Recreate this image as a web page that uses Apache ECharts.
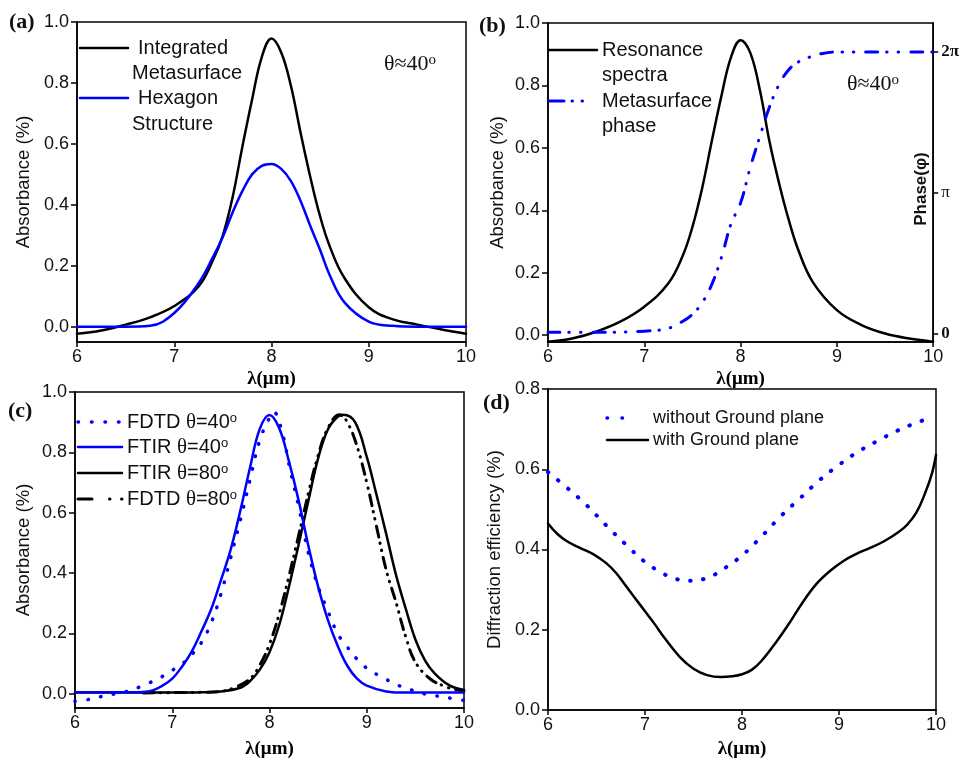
<!DOCTYPE html>
<html>
<head>
<meta charset="utf-8">
<script src="https://cdn.jsdelivr.net/npm/echarts@6/dist/echarts.min.js"></script>
<style>
  html, body { margin: 0; padding: 0; background: #fff; }
  #chart { width: 962px; height: 760px; }
</style>
</head>
<body>
<div id="chart"></div>
<script>
// ---- data ----
// (a) absorbance, integrated metasurface vs hexagon structure
var lamA = [6.0, 6.25, 6.5, 6.75, 7.0, 7.25, 7.4, 7.5, 7.6, 7.7, 7.8, 7.9, 8.0, 8.1, 8.2, 8.3, 8.4, 8.5, 8.6, 8.75, 9.0, 9.25, 9.5, 9.75, 10.0];
var absIntegrated = [-0.023, -0.012, 0.007, 0.031, 0.068, 0.132, 0.22, 0.3, 0.425, 0.59, 0.745, 0.885, 0.946, 0.9, 0.79, 0.635, 0.49, 0.362, 0.263, 0.16, 0.064, 0.024, 0.007, -0.009, -0.023];
var absHexagon = [0, 0, 0, 0.003, 0.045, 0.143, 0.23, 0.295, 0.375, 0.445, 0.5, 0.528, 0.534, 0.518, 0.478, 0.412, 0.33, 0.252, 0.168, 0.08, 0.017, 0.003, 0, 0, 0];

// (b) resonance spectra + metasurface phase (phase in units of pi)
var lamB = [6.0, 6.25, 6.5, 6.75, 7.0, 7.25, 7.4, 7.5, 7.6, 7.7, 7.8, 7.9, 8.0, 8.1, 8.2, 8.3, 8.4, 8.5, 8.6, 8.75, 9.0, 9.25, 9.5, 9.75, 10.0];
var absResonance = [-0.021, -0.011, 0.011, 0.043, 0.091, 0.166, 0.255, 0.347, 0.47, 0.62, 0.765, 0.89, 0.945, 0.905, 0.785, 0.62, 0.486, 0.369, 0.272, 0.17, 0.08, 0.033, 0.005, -0.011, -0.021];
var lamPhase = [6.0, 6.5, 7.0, 7.25, 7.4, 7.5, 7.6, 7.7, 7.8, 7.9, 8.0, 8.1, 8.2, 8.3, 8.4, 8.5, 8.6, 8.7, 8.85, 9.0, 9.5, 10.0];
var phasePi = [0.012, 0.012, 0.02, 0.04, 0.09, 0.14, 0.22, 0.35, 0.54, 0.78, 0.93, 1.18, 1.4, 1.61, 1.77, 1.875, 1.93, 1.96, 1.99, 2.0, 2.0, 2.0];

// (c) FDTD vs FTIR at 40 and 80 degrees
var lamFtir40 = [6.0, 6.5, 6.75, 6.9, 7.0, 7.1, 7.2, 7.3, 7.4, 7.5, 7.6, 7.7, 7.8, 7.9, 8.0, 8.1, 8.2, 8.3, 8.4, 8.5, 8.6, 8.7, 8.8, 8.9, 9.0, 9.2, 9.4, 10.0];
var ftir40 = [0.005, 0.005, 0.008, 0.027, 0.05, 0.09, 0.14, 0.207, 0.28, 0.376, 0.477, 0.607, 0.75, 0.878, 0.924, 0.88, 0.77, 0.64, 0.49, 0.355, 0.245, 0.16, 0.093, 0.05, 0.027, 0.008, 0.004, 0.004];
var lamFdtd40 = [6.0, 6.14, 6.27, 6.4, 6.53, 6.66, 6.77, 6.88, 6.98, 7.1, 7.2, 7.3, 7.4, 7.5, 7.6, 7.7, 7.8, 7.9, 8.0, 8.04, 8.14, 8.2, 8.3, 8.4, 8.5, 8.6, 8.7, 8.8, 8.9, 9.0, 9.15, 9.25, 9.37, 9.5, 9.63, 9.77, 9.9, 10.0];
var fdtd40 = [-0.025, -0.019, -0.009, -0.001, 0.008, 0.022, 0.037, 0.054, 0.074, 0.099, 0.13, 0.17, 0.235, 0.33, 0.45, 0.575, 0.71, 0.84, 0.915, 0.935, 0.854, 0.76, 0.62, 0.466, 0.355, 0.275, 0.2, 0.155, 0.115, 0.085, 0.056, 0.04, 0.022, 0.009, -0.003, -0.009, -0.017, -0.022];
var lamFtir80 = [6.0, 6.7, 7.0, 7.3, 7.5, 7.7, 7.8, 7.9, 8.0, 8.1, 8.2, 8.3, 8.4, 8.5, 8.6, 8.7, 8.76, 8.88, 9.0, 9.1, 9.2, 9.3, 9.4, 9.5, 9.6, 9.7, 9.85, 10.0];
var ftir80 = [0.004, 0.004, 0.004, 0.005, 0.008, 0.02, 0.042, 0.08, 0.138, 0.228, 0.355, 0.495, 0.64, 0.78, 0.876, 0.918, 0.925, 0.9, 0.785, 0.66, 0.53, 0.395, 0.283, 0.18, 0.11, 0.067, 0.028, 0.013];
var lamFdtd80 = [6.7, 7.0, 7.3, 7.5, 7.65, 7.8, 7.9, 8.0, 8.1, 8.2, 8.3, 8.4, 8.5, 8.6, 8.72, 8.8, 8.9, 9.0, 9.1, 9.2, 9.3, 9.4, 9.5, 9.65, 9.8, 9.9, 10.0];
var fdtd80 = [0.003, 0.004, 0.005, 0.008, 0.022, 0.05, 0.095, 0.165, 0.265, 0.39, 0.525, 0.665, 0.79, 0.88, 0.925, 0.9, 0.82, 0.7, 0.555, 0.41, 0.304, 0.19, 0.105, 0.05, 0.025, 0.015, 0.01];

// (d) diffraction efficiency
var lamNoGround = [6.0, 6.2, 6.4, 6.6, 6.8, 7.0, 7.18, 7.3, 7.43, 7.56, 7.69, 7.8, 8.0, 8.2, 8.4, 8.6, 8.8, 9.0, 9.2, 9.4, 9.6, 9.8, 9.95];
var effNoGround = [0.593, 0.553, 0.51, 0.46, 0.413, 0.369, 0.341, 0.328, 0.322, 0.324, 0.334, 0.35, 0.385, 0.432, 0.483, 0.528, 0.573, 0.611, 0.644, 0.671, 0.696, 0.716, 0.729];
var lamGround = [6.0, 6.1, 6.2, 6.33, 6.47, 6.6, 6.7, 6.8, 6.9, 7.0, 7.1, 7.2, 7.36, 7.5, 7.64, 7.78, 7.9, 8.0, 8.1, 8.2, 8.36, 8.5, 8.63, 8.77, 8.91, 9.05, 9.18, 9.32, 9.46, 9.6, 9.7, 9.8, 9.89, 9.96, 10.0];
var effGround = [0.465, 0.438, 0.42, 0.404, 0.388, 0.366, 0.342, 0.31, 0.278, 0.246, 0.214, 0.18, 0.132, 0.103, 0.087, 0.082, 0.084, 0.089, 0.1, 0.122, 0.172, 0.221, 0.27, 0.315, 0.347, 0.372, 0.389, 0.404, 0.42, 0.441, 0.461, 0.493, 0.542, 0.591, 0.636];

var absTicks = [0, 0.2, 0.4, 0.6, 0.8, 1.0];
var effTicks = [0, 0.2, 0.4, 0.6, 0.8];
var phaseTicks = [0, 1, 2];

var BLUE = '#0000ff';
var SANS = 'Liberation Sans';
var SERIF = 'Liberation Serif';

function pairs(xs, ys) {
  return xs.map(function (x, i) { return [x, ys[i]]; });
}

function xAx(gridIndex, nameGap) {
  return {
    type: 'value', gridIndex: gridIndex, min: 6, max: 10, interval: 1,
    name: 'λ(μm)', nameLocation: 'middle', nameGap: nameGap,
    nameTextStyle: { fontFamily: SERIF, fontWeight: 'bold', fontSize: 19, color: '#000' },
    axisLine: { onZero: false, lineStyle: { color: '#000', width: 1.5 } },
    axisTick: { length: 5, lineStyle: { color: '#000', width: 1.5 } },
    axisLabel: { fontFamily: SANS, fontSize: 18, color: '#111', margin: 6 },
    splitLine: { show: false }
  };
}

function yAx(gridIndex, min, max, name, nameGap, ticks) {
  return {
    type: 'value', gridIndex: gridIndex, min: min, max: max,
    name: name, nameLocation: 'middle', nameGap: nameGap,
    nameTextStyle: { fontFamily: SANS, fontSize: 18.5, color: '#111' },
    axisLine: { onZero: false, lineStyle: { color: '#000', width: 1.5 } },
    axisTick: { length: 6, customValues: ticks, lineStyle: { color: '#000', width: 1.5 } },
    axisLabel: {
      fontFamily: SANS, fontSize: 18, color: '#111', margin: 8, customValues: ticks,
      formatter: function (v) { return v.toFixed(1); }
    },
    splitLine: { show: false }
  };
}

function line(name, xi, yi, xs, ys, color, width, dash) {
  return {
    name: name, type: 'line', xAxisIndex: xi, yAxisIndex: yi,
    data: pairs(xs, ys), showSymbol: false, smooth: 0.4,
    lineStyle: { color: color, width: width, type: dash || 'solid', cap: 'round', join: 'round' }
  };
}

var dotDash = [0.5, 12.5];
var dashDotDot = [12, 9, 0.5, 11, 0.5, 12];
var dashDotDotC = [11, 6, 0.5, 7, 0.5, 7];

function txt(x, y, text, font, extra) {
  var style = { text: text, font: font || ('20px "' + SANS + '"'), fill: '#111', textAlign: 'left', textVerticalAlign: 'middle' };
  if (extra) { for (var k in extra) style[k] = extra[k]; }
  return { type: 'text', x: x, y: y, z: 100, style: style };
}
function sample(x1, x2, y, color, width, dash) {
  return {
    type: 'line', z: 100, shape: { x1: x1, y1: y, x2: x2, y2: y },
    style: { stroke: color, lineWidth: width, lineDash: dash || null, lineCap: 'round' }
  };
}
var thetaRich = {
  s: { fontFamily: SANS, fontSize: 20, color: '#111' },
  t: { fontFamily: SERIF, fontSize: 21, color: '#111' },
  sup: { fontFamily: SANS, fontSize: 13, color: '#111', verticalAlign: 'top' }
};
var angleRich = {
  t: { fontFamily: SERIF, fontSize: 22, color: '#111' },
  sup: { fontFamily: SERIF, fontSize: 15, color: '#111', verticalAlign: 'top' }
};

var graphics = [
  // panel labels
  txt(9, 22, '(a)', 'bold 22px "' + SERIF + '"'),
  txt(479, 26, '(b)', 'bold 22px "' + SERIF + '"'),
  txt(8, 411, '(c)', 'bold 22px "' + SERIF + '"'),
  txt(483, 403, '(d)', 'bold 22px "' + SERIF + '"'),
  // (a) legend
  sample(80, 128, 48, '#000', 2.5),
  txt(138, 48, 'Integrated'),
  txt(132, 73, 'Metasurface'),
  sample(80, 128, 98, BLUE, 2.5),
  txt(138, 98, 'Hexagon'),
  txt(132, 124, 'Structure'),
  txt(384, 64, '{t|θ≈40}{sup|o}', null, { rich: angleRich }),
  // (b) legend
  sample(549, 597, 50, '#000', 2.5),
  txt(602, 50, 'Resonance'),
  txt(602, 75, 'spectra'),
  sample(549, 586, 101, BLUE, 3, [15, 8, 0.5, 9.5, 0.5, 30]),
  txt(602, 101, 'Metasurface'),
  txt(602, 126, 'phase'),
  txt(847, 84, '{t|θ≈40}{sup|o}', null, { rich: angleRich }),
  {
    type: 'text', x: 921, y: 189, rotation: Math.PI / 2, z: 100,
    style: { text: 'Phase(φ)', font: 'bold 17px "' + SANS + '"', fill: '#111', textAlign: 'center', textVerticalAlign: 'middle' }
  },
  // (c) legend
  sample(78, 122, 422, BLUE, 3.5, [0.5, 13]),
  txt(127, 422, '{s|FDTD }{t|θ}{s|=40}{sup|o}', null, { rich: thetaRich }),
  sample(78, 122, 447, BLUE, 2.5),
  txt(127, 447, '{s|FTIR }{t|θ}{s|=40}{sup|o}', null, { rich: thetaRich }),
  sample(78, 122, 473, '#000', 2.5),
  txt(127, 473, '{s|FTIR }{t|θ}{s|=80}{sup|o}', null, { rich: thetaRich }),
  sample(78, 123, 499, '#000', 3, [14, 17.5, 0.5, 11.5, 0.5, 30]),
  txt(127, 499, '{s|FDTD }{t|θ}{s|=80}{sup|o}', null, { rich: thetaRich }),
  // (d) legend
  sample(607, 637, 418, BLUE, 3.5, [0.5, 14.5]),
  txt(653, 418, 'without Ground plane', '18px "' + SANS + '"'),
  sample(607, 648, 440, '#000', 2.5),
  txt(653, 440, 'with Ground plane', '18px "' + SANS + '"')
];

var phaseAxis = {
  type: 'value', gridIndex: 1, position: 'right', min: -0.057, max: 2.206,
  axisLine: { onZero: false, lineStyle: { color: '#000', width: 1.5 } },
  axisTick: { length: 5, customValues: phaseTicks, lineStyle: { color: '#000', width: 1.5 } },
  axisLabel: {
    margin: 8, customValues: phaseTicks,
    formatter: function (v) {
      var r = Math.round(v);
      return r === 0 ? '{b|0}' : (r === 1 ? '{n|π}' : '{b|2π}');
    },
    rich: {
      b: { fontFamily: SERIF, fontWeight: 'bold', fontSize: 17, color: '#111' },
      n: { fontFamily: SERIF, fontSize: 17, color: '#111' }
    }
  },
  splitLine: { show: false }
};

var option = {
  animation: false,
  backgroundColor: '#fff',
  grid: [
    { left: 77, top: 22, width: 389, height: 320, show: true, borderColor: '#000', borderWidth: 1.5 },
    { left: 548, top: 23, width: 387, height: 319, show: true, borderColor: '#000', borderWidth: 1.5 },
    { left: 75, top: 392, width: 389, height: 323, show: true, borderColor: '#000', borderWidth: 1.5 },
    { left: 548, top: 389, width: 388, height: 328, show: true, borderColor: '#000', borderWidth: 1.5 }
  ],
  xAxis: [xAx(0, 28), xAx(1, 28), xAx(2, 32), xAx(3, 30)],
  yAxis: [
    yAx(0, -0.05, 1.0, 'Absorbance (%)', 44, absTicks),
    yAx(1, -0.022, 1.0, 'Absorbance (%)', 41, absTicks),
    phaseAxis,
    yAx(2, -0.047, 1.0, 'Absorbance (%)', 42, absTicks),
    yAx(3, 0, 0.8, 'Diffraction efficiency (%)', 44, effTicks)
  ],
  series: [
    line('Integrated Metasurface', 0, 0, lamA, absIntegrated, '#000', 2.5),
    line('Hexagon Structure', 0, 0, lamA, absHexagon, BLUE, 2.5),

    line('Resonance spectra', 1, 1, lamB, absResonance, '#000', 2.5),
    line('Metasurface phase', 1, 2, lamPhase, phasePi, BLUE, 3, dashDotDot),

    line('FTIR θ=80°', 2, 3, lamFtir80, ftir80, '#000', 2.5),
    line('FDTD θ=80°', 2, 3, lamFdtd80, fdtd80, '#000', 3, dashDotDotC),
    line('FTIR θ=40°', 2, 3, lamFtir40, ftir40, BLUE, 2.5),
    line('FDTD θ=40°', 2, 3, lamFdtd40, fdtd40, BLUE, 3.5, dotDash),

    line('with Ground plane', 3, 4, lamGround, effGround, '#000', 2.5),
    line('without Ground plane', 3, 4, lamNoGround, effNoGround, BLUE, 4, dotDash)
  ],
  graphic: graphics
};

var chart = echarts.init(document.getElementById('chart'));
chart.setOption(option);
</script>
</body>
</html>
